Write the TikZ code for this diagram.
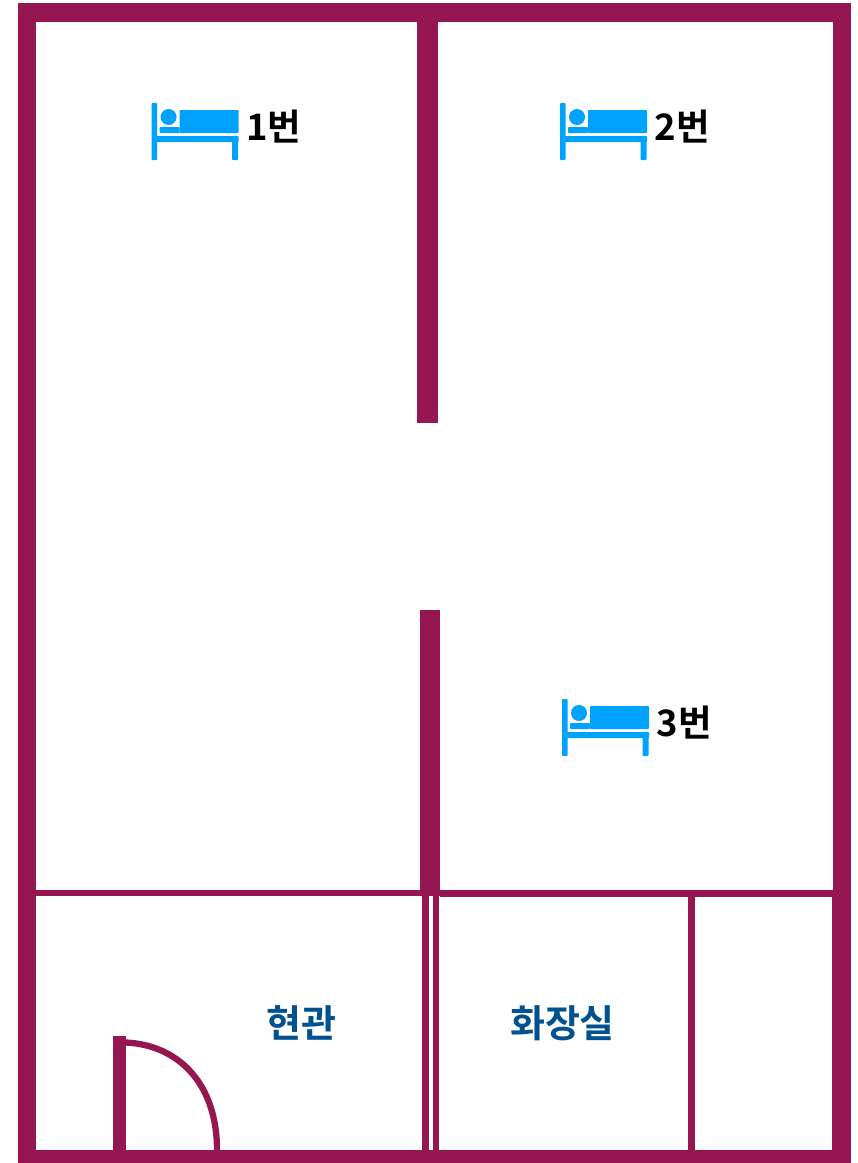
\documentclass[tikz,border=0pt]{standalone}
\usepackage{fontspec}
\newfontfamily\kr{Noto Sans CJK KR}[BoldFont={Noto Sans CJK KR Bold}]
\definecolor{wine}{HTML}{951650}
\definecolor{bedblue}{HTML}{00A2FF}
\definecolor{roomblue}{HTML}{00518F}
\tikzset{
  wall/.style={fill=wine,draw=none},
  bedlabel/.style={font=\kr\bfseries\fontsize{36.5}{36.5}\selectfont,text=black,inner sep=0pt,anchor=center},
  roomlabel/.style={font=\kr\bfseries\fontsize{38}{38}\selectfont,text=roomblue,inner sep=0pt,anchor=center},
  bedicon/.pic={
    \fill[bedblue,rounded corners=0.8pt] (0,0) rectangle (5.5,57);
    \fill[bedblue] (17,14) circle (8);
    \fill[bedblue,rounded corners=0.8pt] (28,7) rectangle (87,30);
    \fill[bedblue,rounded corners=0.8pt] (8,24) rectangle (28,30);
    \fill[bedblue,rounded corners=0.8pt] (3,33) rectangle (87,39);
    \fill[bedblue,rounded corners=0.8pt] (80.5,33) rectangle (86.5,57);
  }
}
\begin{document}
\begin{tikzpicture}[x=1pt,y=-1pt]
\useasboundingbox (0,0) rectangle (858,1163);
% outer walls
\fill[wall] (18,3) rectangle (851,22);
\fill[wall] (18,3) rectangle (36,1163);
\fill[wall] (18,1150) rectangle (851,1163);
\fill[wall] (833,3) rectangle (851,890);
\fill[wall] (832,890) rectangle (851,1163);
% central walls
\fill[wall] (417,22) rectangle (438,423);
\fill[wall] (420,610) rectangle (440,896);
% cross wall
\fill[wall] (36,889.5) rectangle (420,896);
\fill[wall] (440,890) rectangle (833,896.5);
% lower partitions
\fill[wall] (422,896) rectangle (428.5,1150);
\fill[wall] (433,896) rectangle (439,1150);
\fill[wall] (687.5,896) rectangle (695,1150);
% door
\fill[wall] (113,1036) rectangle (126,1150);
\draw[wine,line width=6.3pt] (126,1042.5) .. controls (178,1045) and (217,1083) .. (217,1150);
% beds
\pic at (151.6,103) {bedicon};
\pic at (560,103) {bedicon};
\pic at (562,699) {bedicon};
\node[bedlabel] (b1) at (274,127) {1번};
\node[bedlabel] (b2) at (682.5,127) {2번};
\node[bedlabel] (b3) at (684.5,723) {3번};
\node[roomlabel] (r1) at (301,1023) {현관};
\node[roomlabel] (r2) at (562.5,1023) {화장실};
\end{tikzpicture}
\end{document}
